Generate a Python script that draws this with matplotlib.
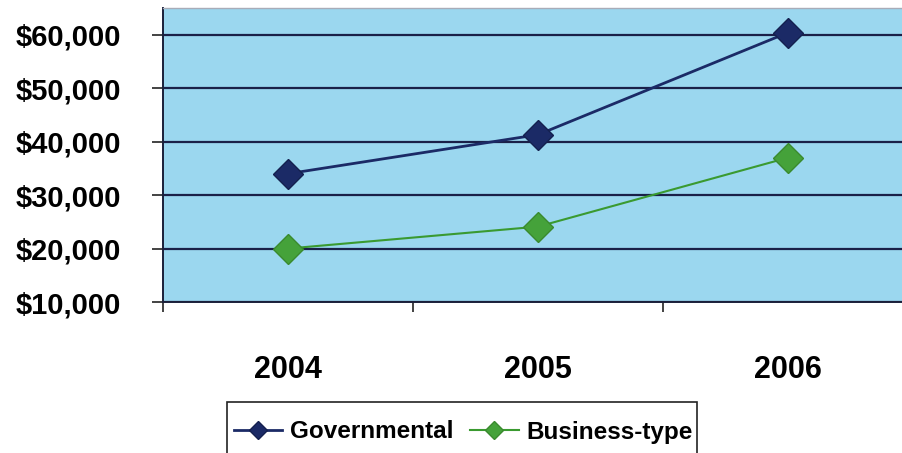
"""line chart: governmental vs business-type, 2004-2006"""
import matplotlib
matplotlib.use("Agg")
import matplotlib.pyplot as plt
from matplotlib.patches import Rectangle
from matplotlib.ticker import FuncFormatter

years = ["2004", "2005", "2006"]
governmental = [34000, 41300, 60400]
business_type = [20000, 24100, 37000]
y_ticks = [10000, 20000, 30000, 40000, 50000, 60000]

plt.rcParams['font.family'] = ['Liberation Sans', 'DejaVu Sans']
plt.rcParams['font.weight'] = 'bold'

W, H = 903, 453
fig = plt.figure(figsize=(W / 100, H / 100), dpi=100)
# plot area runs off the right edge, like the scanned original
ax = fig.add_axes([163 / W, (H - 302) / H, 750 / W, 294 / H])
ax.set_facecolor('#9bd7ef')

x = [i + 0.5 for i in range(len(years))]
ax.plot(x, governmental, color='#1b2a66', lw=2, marker='D', ms=15,
        mfc='#1b2a66', mec='#14204f', label='Governmental', zorder=3)
ax.plot(x, business_type, color='#3a9a30', lw=1.5, marker='D', ms=15,
        mfc='#45a23a', mec='#3a8a2e', label='Business-type', zorder=3)

ax.set_xlim(0, 3)
ax.set_ylim(10000, 65000)
ax.set_yticks(y_ticks)
ax.yaxis.set_major_formatter(FuncFormatter(lambda v, p: "${:,.0f}".format(v)))
ax.set_xticks([0, 1, 2, 3])
ax.set_xticklabels([])
ax.set_xticks(x, minor=True)
ax.set_xticklabels(years, minor=True)

ax.grid(axis='y', color='#1a2048', lw=1.6)
ax.set_axisbelow(True)
ax.tick_params(axis='y', length=8, width=1.2, color='#222222', pad=22,
               labelsize=21)
ax.tick_params(axis='x', which='major', length=7, width=1.2, color='#222222')
ax.tick_params(axis='x', which='minor', length=0, pad=38, labelsize=22)

for s in ['left', 'bottom']:
    ax.spines[s].set_color('#1a1f3a')
    ax.spines[s].set_linewidth(1.4)
ax.spines['top'].set_color('#a8acb8')
ax.spines['top'].set_linewidth(1)
ax.spines['top'].set_linestyle((0, (2, 1)))
ax.spines['right'].set_visible(False)

# legend without its own frame; the box is cut by the bottom edge
leg = fig.legend(loc='center', bbox_to_anchor=(463 / W, 1 - 432 / H),
                 ncol=2, fontsize=17.5, frameon=False, borderpad=0,
                 handlelength=2.0, handletextpad=0.3, columnspacing=0.7,
                 markerscale=0.6)
fig.add_artist(Rectangle((227 / W, -0.02), 470 / W, 0.02 + 51 / H,
                         transform=fig.transFigure, fill=False,
                         edgecolor='#222222', lw=1.2))

fig.savefig("out.png", dpi=100)
